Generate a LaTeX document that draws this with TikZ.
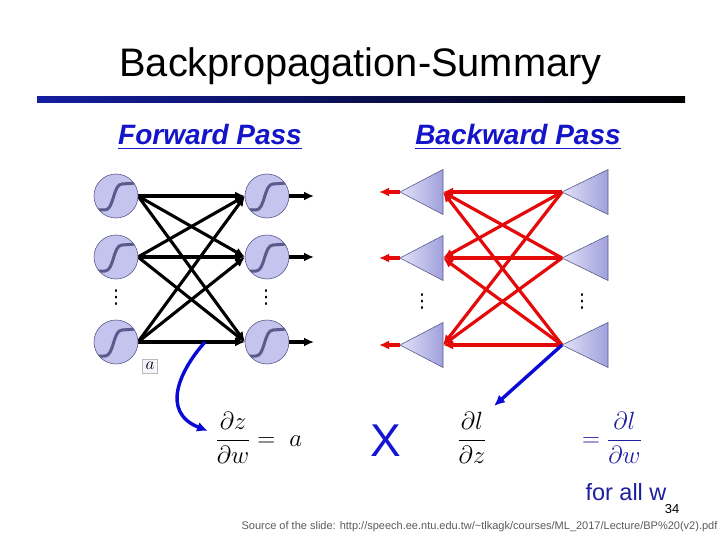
\documentclass[tikz,border=0pt]{standalone}
\usepackage{amsmath}
\usepackage{fontspec}
\setmainfont{Liberation Sans}
\newfontfamily\djv{DejaVu Sans}
\usetikzlibrary{arrows.meta}
\definecolor{barblue}{RGB}{20,30,160}
\definecolor{headblue}{RGB}{20,20,200}
\definecolor{eqblue}{RGB}{30,30,160}
\definecolor{xblue}{RGB}{20,20,210}
\definecolor{arrblue}{RGB}{10,10,215}
\definecolor{neufill}{RGB}{196,196,238}
\definecolor{neuline}{RGB}{90,90,140}
\definecolor{trilight}{RGB}{226,226,248}
\definecolor{tridark}{RGB}{160,160,220}
\definecolor{redline}{RGB}{228,10,10}
\definecolor{srcgray}{RGB}{90,90,90}
\begin{document}
\begin{tikzpicture}[x=1pt,y=-1pt,
  neuron/.style={circle, draw=neuline, line width=0.6pt, fill=neufill, minimum size=44pt, inner sep=0pt,
    path picture={\draw[line width=3pt, line cap=round]
      ([shift={(-19,14)}]path picture bounding box.center) -- ++(8,0)
      .. controls +(9,0) and +(-9,0) .. ++(17,-26) -- ++(14,-1);}},
  fwdedge/.style={line width=3.1pt, -{Latex[length=10pt,width=9pt]}},
  redge/.style={line width=3.2pt, draw=redline, -{Latex[length=10pt,width=9pt]}},
  bluearr/.style={line width=3.4pt, draw=arrblue, -{Latex[length=11pt,width=10pt]}},
  tri/.style={left color=trilight, right color=tridark, draw=neuline, line width=0.6pt},
  dots/.style={font=\djv\fontsize{19}{19}\selectfont, inner sep=0pt},
  eq/.style={font=\fontsize{26}{30}\selectfont, inner sep=0pt}
]
\useasboundingbox (0,0) rectangle (720,540);
% title
\node[anchor=base, font=\fontsize{39.8}{44}\selectfont, inner sep=0pt] (title) at (360.5,77) {Backpropagation-Summary};
\shade[left color=barblue, right color=black] (37,96.5) rectangle (685,102.5);
\node[anchor=base, font=\fontsize{28}{32}\selectfont\bfseries\itshape, text=headblue, inner sep=0pt] (fp) at (210,145) {\underline{Forward Pass}};
\node[anchor=base, font=\fontsize{28}{32}\selectfont\bfseries\itshape, text=headblue, inner sep=0pt] (bp) at (518,145) {\underline{Backward Pass}};

% forward network
\foreach \y [count=\i] in {196,257,342} {
  \coordinate (fo\i) at (314,\y);
}
\foreach \y [count=\i] in {196,257,342} {
  \foreach \yy [count=\j] in {196,257,342} {
    \draw[fwdedge] (138,\y) -- (245,\yy);
  }
}
\node[neuron] (fL1) at (116,196) {};
\node[neuron] (fL2) at (116,257) {};
\node[neuron] (fL3) at (116,342) {};
\node[neuron] (fR1) at (267,196) {};
\node[neuron] (fR2) at (267,257) {};
\node[neuron] (fR3) at (267,342) {};
\foreach \i in {1,2,3} {\draw[fwdedge] (fR\i.east) -- (fo\i);}
\node[dots] (fd1) at (116,298) {⋮};
\node[dots] (fd2) at (266,298) {⋮};
\node[draw=gray!55, fill=blue!4, inner xsep=3pt, inner ysep=3pt, font=\fontsize{18}{18}\selectfont] (abox) at (150,366) {$a$};

% forward blue arrow and formula
\coordinate (bs) at (205,342);
\coordinate (be) at (208,431);
\draw[bluearr] (bs) .. controls (180,370) and (160,412) .. (be);
\node[eq] (dzdw) at (259,438) {$\dfrac{\partial z}{\partial w} = \ a$};

% backward network
\foreach \y [count=\i] in {192,258,345} {
  \coordinate (bLa\i) at (400,\y);
  \coordinate (bLb\i) at (443,\y);
  \coordinate (bRa\i) at (562,\y);
  \coordinate (bo\i) at (379,\y);
  \shadedraw[tri] (bLa\i) -- (443,\y-22.5) -- (443,\y+22.5) -- cycle;
  \shadedraw[tri] (bRa\i) -- (608,\y-22.5) -- (608,\y+22.5) -- cycle;
}
\foreach \j in {1,2,3} {
  \foreach \i in {1,2,3} {
    \draw[redge] (bRa\j) -- (bLb\i);
  }
}
\foreach \i in {1,2,3} {\draw[redge] (bLa\i) -- (bo\i);}
\node[dots] (bd1) at (422,302) {⋮};
\node[dots] (bd2) at (582,302) {⋮};

\coordinate (ble) at (494,406);
\draw[bluearr] (bRa3) -- (ble);

% formulas
\node[inner sep=0pt, font=\fontsize{46}{50}\selectfont, text=xblue] (times) at (386,441) {X};
\node[eq] (dldz) at (472,438) {$\dfrac{\partial l}{\partial z}$};
\node[eq, text=eqblue] (dldw) at (612,438) {$=\dfrac{\partial l}{\partial w}$};
\node[inner sep=0pt, anchor=base, font=\fontsize{23.5}{26}\selectfont, text=eqblue] (forall) at (626,500) {for all w};
\node[inner sep=0pt, font=\fontsize{13}{14}\selectfont] (pnum) at (672,509) {34};
\node[inner sep=0pt, font=\fontsize{11}{13}\selectfont, text=srcgray] (src) at (479.5,527) {Source of the slide: http://speech.ee.ntu.edu.tw/\textasciitilde tlkagk/courses/ML\_2017/Lecture/BP\%20(v2).pdf};
\end{tikzpicture}
\end{document}
